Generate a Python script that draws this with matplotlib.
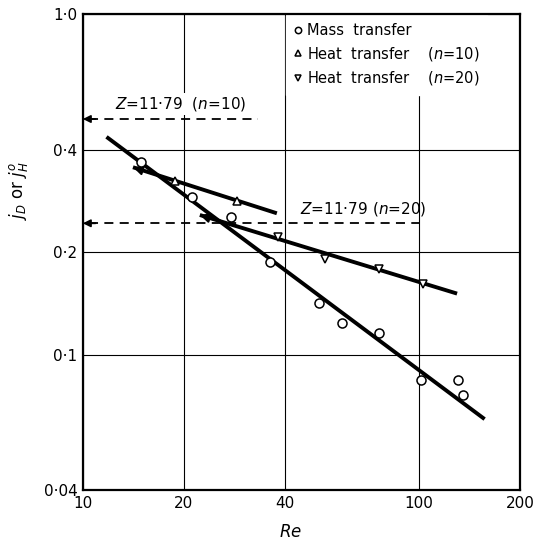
import numpy as np
import matplotlib
matplotlib.use('Agg')
import matplotlib.pyplot as plt
from matplotlib.ticker import FixedLocator, FixedFormatter, NullLocator

# data
mass_re = [14.9, 21.1, 27.7, 36.0, 50.5, 59.1, 76.0, 101.4, 130.9, 135.6]
mass_j = [0.367, 0.290, 0.254, 0.187, 0.142, 0.124, 0.116, 0.084, 0.084, 0.076]
heat10_re = [18.8, 28.7]
heat10_j = [0.323, 0.282]
heat20_re = [38.1, 52.5, 76.0, 102.6]
heat20_j = [0.221, 0.191, 0.178, 0.161]

# fitted lines (end points)
mass_line_re = [11.76, 157.0]
mass_line_j = [0.436, 0.0646]
heat10_line_re = [14.1, 37.8]
heat10_line_j = [0.355, 0.260]
heat20_line_re = [22.3, 130.0]
heat20_line_j = [0.257, 0.151]

# Z = 11.79 limits
z10_j, z10_end = 0.492, 33.3
z20_j, z20_end = 0.243, 100.0

xticks = [10, 20, 40, 100, 200]
xlabels = ['10', '20', '40', '100', '200']
yticks = [0.04, 0.1, 0.2, 0.4, 1.0]
ylabels = ['0·04', '0·1', '0·2', '0·4', '1·0']

fig = plt.figure(figsize=(5.45, 5.45), dpi=100)
ax = fig.add_axes([0.152, 0.101, 0.802, 0.873])
ax.set_xscale('log')
ax.set_yscale('log')
ax.set_xlim(10, 200)
ax.set_ylim(0.04, 1.0)

ax.xaxis.set_major_locator(FixedLocator(xticks))
ax.xaxis.set_major_formatter(FixedFormatter(xlabels))
ax.xaxis.set_minor_locator(NullLocator())
ax.yaxis.set_major_locator(FixedLocator(yticks))
ax.yaxis.set_major_formatter(FixedFormatter(ylabels))
ax.yaxis.set_minor_locator(NullLocator())
ax.tick_params(length=0, labelsize=11, pad=4)
ax.grid(True, color='black', lw=0.8)
for s in ax.spines.values():
    s.set_linewidth(1.6)

# lines
lw = 2.8
ax.plot(mass_line_re, mass_line_j, color='black', lw=lw, solid_capstyle='butt', zorder=3)
ax.plot(heat10_line_re, heat10_line_j, color='black', lw=lw, solid_capstyle='butt', zorder=3)
ax.plot(heat20_line_re, heat20_line_j, color='black', lw=lw, solid_capstyle='butt', zorder=3)

# small arrow heads at the left end of the heat transfer lines
for lre, lj in [(heat10_line_re, heat10_line_j), (heat20_line_re, heat20_line_j)]:
    lx = np.log10(lre)
    ly = np.log10(lj)
    tx = lx[0] + 0.06
    ty = np.interp(tx, lx, ly)
    ax.annotate('', xy=(lre[0], lj[0]), xytext=(10 ** tx, 10 ** ty),
                arrowprops=dict(arrowstyle='-|>', color='black', lw=1.5,
                                mutation_scale=14, shrinkA=0, shrinkB=0), zorder=3)

# points
mk = dict(mfc='white', mec='black', mew=1.1, ls='none', zorder=4)
h1, = ax.plot(mass_re, mass_j, 'o', ms=6.5, **mk)
h2, = ax.plot(heat10_re, heat10_j, '^', ms=6, **mk)
h3, = ax.plot(heat20_re, heat20_j, 'v', ms=6, **mk)

# dashed Z lines with arrows at the axis
for zj, zend in [(z10_j, z10_end), (z20_j, z20_end)]:
    ax.plot([10.4, zend], [zj, zj], color='black', lw=1.3, ls=(0, (5, 3.5)), zorder=3)
    ax.annotate('', xy=(10, zj), xytext=(10.9, zj),
                arrowprops=dict(arrowstyle='-|>', color='black', lw=1.3,
                                mutation_scale=11, shrinkA=0, shrinkB=0), zorder=3)

ax.text(19.6, 0.545, '$Z$=11·79  ($n$=10)', fontsize=11, ha='center', va='center',
        bbox=dict(fc='white', ec='none', pad=1.5), zorder=2.4)
ax.text(68.4, 0.268, '$Z$=11·79 ($n$=20)', fontsize=11, ha='center', va='center', zorder=2.4)

leg = ax.legend([h1, h2, h3],
                ['Mass  transfer', 'Heat  transfer    ($n$=10)', 'Heat  transfer    ($n$=20)'],
                loc='upper left', bbox_to_anchor=(0.465, 0.998), fontsize=10.5,
                markerscale=0.7, handlelength=0.5, handletextpad=0.35,
                labelspacing=0.45, borderpad=0.55, borderaxespad=0.0,
                frameon=True, fancybox=False)
leg.get_frame().set_facecolor('white')
leg.get_frame().set_edgecolor('white')
leg.get_frame().set_alpha(1)
leg.set_zorder(2.4)

ax.set_xlabel('$Re$', fontsize=12)
ax.xaxis.set_label_coords(0.474, -0.069)
ax.set_ylabel('$j_D$ or $j_H^o$', fontsize=12)
ax.yaxis.set_label_coords(-0.121, 0.63)

fig.savefig('out.png', dpi=100)
